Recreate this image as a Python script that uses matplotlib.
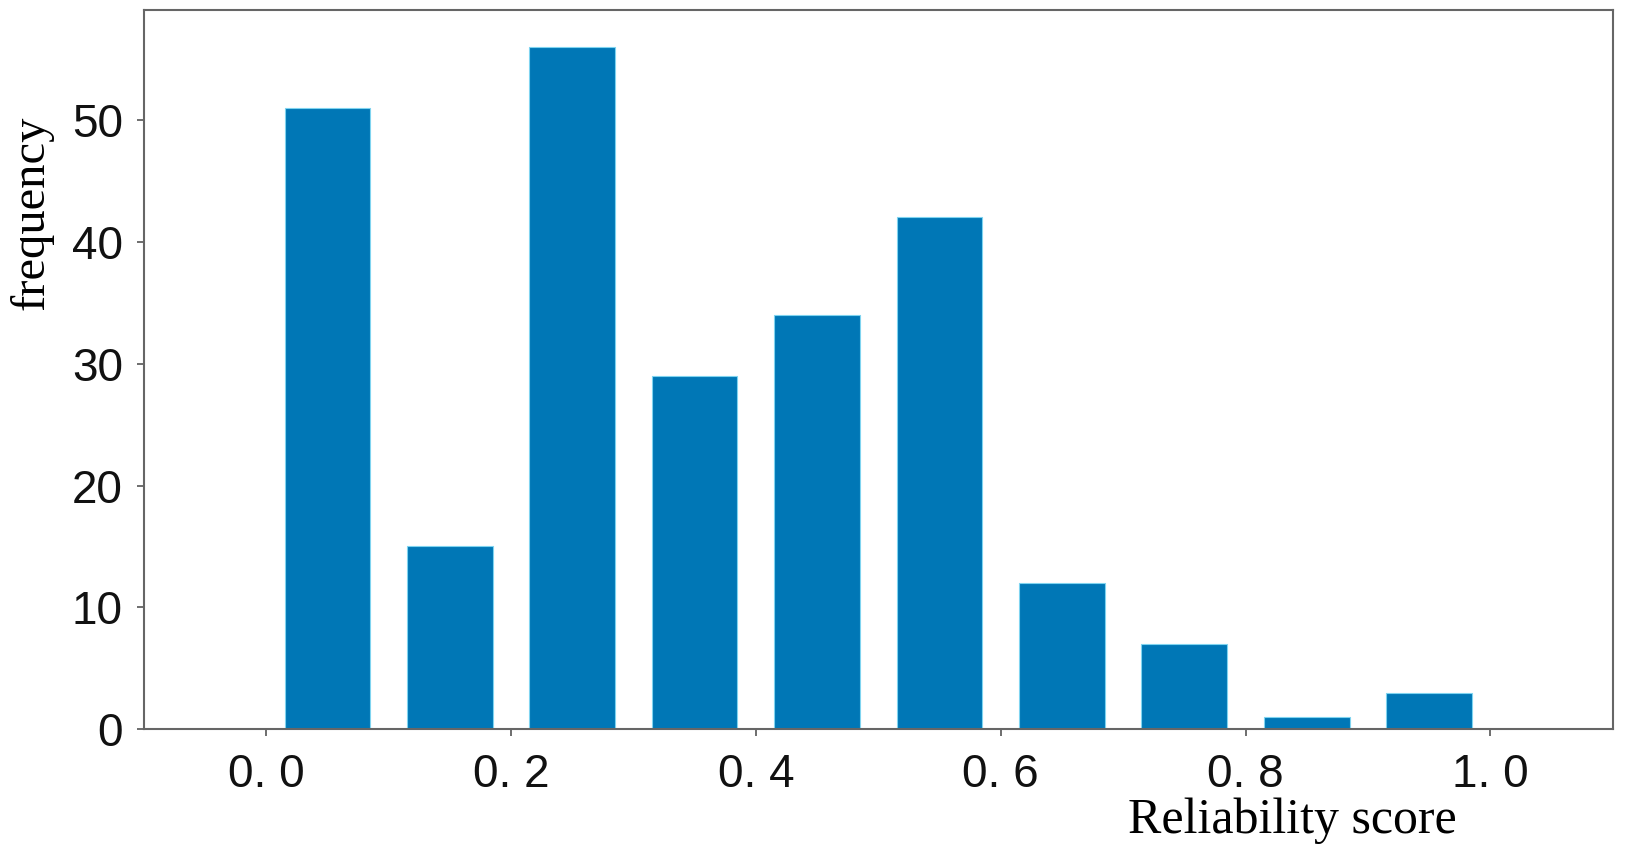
import matplotlib
matplotlib.use("Agg")
import matplotlib.pyplot as plt
import numpy as np

# histogram bins (centres) and counts
bin_centers = [0.05, 0.15, 0.25, 0.35, 0.45, 0.55, 0.65, 0.75, 0.85, 0.95]
counts = [51, 15, 56, 29, 34, 42, 12, 7, 1, 3]
xtick_values = [0.0, 0.2, 0.4, 0.6, 0.8, 1.0]
xtick_labels = ["0. 0", "0. 2", "0. 4", "0. 6", "0. 8", "1. 0"]
ytick_values = [0, 10, 20, 30, 40, 50]

fig = plt.figure(figsize=(16.34, 8.52), dpi=100)
ax = fig.add_axes([0.088, 0.144, 0.899, 0.844])

ax.bar(bin_centers, counts, width=0.07, color="#0077B6",
       edgecolor="#7fd4f0", linewidth=0.8)

ax.set_xlim(-0.1, 1.1)
ax.set_ylim(0, 59)
ax.set_xticks(xtick_values)
ax.set_xticklabels(xtick_labels)
ax.set_yticks(ytick_values)
ax.tick_params(axis="both", labelsize=33, length=5, width=1.2,
               color="#555555", labelcolor="#111111")
ax.tick_params(axis="x", pad=12)
ax.tick_params(axis="y", pad=10)
for lab in ax.get_xticklabels() + ax.get_yticklabels():
    lab.set_family("Liberation Sans")
for sp in ax.spines.values():
    sp.set_color("#666666")
    sp.set_linewidth(1.5)

fig.text(0.791, 0.037, "Reliability score", family="Liberation Serif",
         fontsize=36, ha="center", va="center")
fig.text(0.019, 0.75, "frequency", family="Liberation Serif",
         fontsize=35, ha="center", va="center", rotation=90)

fig.savefig("out.png", dpi=100)
